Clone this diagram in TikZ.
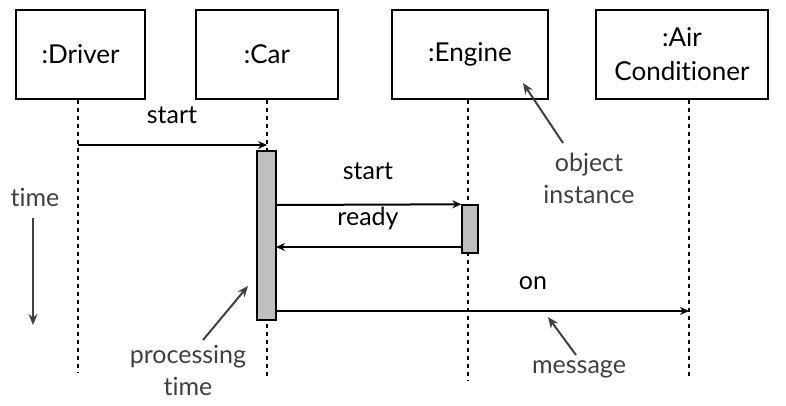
\documentclass[tikz,border=0pt]{standalone}
\usepackage{fontspec}
\setmainfont{Lato}[Ligatures=NoCommon]
\usepackage{tikz}
\usetikzlibrary{arrows.meta}

\tikzset{
  obj/.style={draw, line width=2.6pt, minimum width=#1, minimum height=89pt, inner sep=0pt, align=center, font=\fontsize{26}{34}\selectfont},
  life/.style={line width=2pt, dash pattern=on 4pt off 4pt},
  actbar/.style={draw, line width=1.4pt, fill=gray!50, inner sep=0pt},
  msg/.style={line width=2pt, -{Stealth[length=9pt, width=8pt]}},
  note/.style={line width=2pt, draw=notegray, -{Stealth[length=11pt, width=9pt]}},
  lbl/.style={font=\fontsize{25}{30}\selectfont},
  notelbl/.style={font=\fontsize{25}{32}\selectfont, text=notegray, align=center}
}
\definecolor{notegray}{HTML}{404040}

\begin{document}
\begin{tikzpicture}[x=1pt, y=-1pt]
    \useasboundingbox (0,0) rectangle (786,405);

    % objects
    \node[obj=129pt] (drv) at (80.5,54.5) {:Driver};
    \node[obj=142pt] (car) at (267,54.5) {:Car};
    \node[obj=156pt] (eng) at (470,54.5) {:Engine};
    \node[obj=172pt] (ac) at (682,54.5) {:Air\\Conditioner};

    % lifelines
    \coordinate (drvtop) at (78,100);
    \coordinate (drvbot) at (78,373);
    \coordinate (cartop) at (267,100);
    \coordinate (carbot) at (267,379);
    \coordinate (engtop) at (468,100);
    \coordinate (engbot) at (468,381);
    \coordinate (actop) at (689,100);
    \coordinate (acbot) at (689,379);
    \draw[life] (drvtop) -- (drvbot);
    \draw[life] (cartop) -- (carbot);
    \draw[life] (engtop) -- (engbot);
    \draw[life] (actop) -- (acbot);

    % activations
    \node[actbar, minimum width=19pt, minimum height=169pt] (carbar) at (266.5,235.5) {};
    \node[actbar, minimum width=16pt, minimum height=48pt] (engbar) at (470,229) {};

    % messages
    \coordinate (m1a) at (78,145);
    \coordinate (m1b) at (267,145);
    \draw[msg] (m1a) -- (m1b);
    \node[lbl] (m1lbl) at (172,115) {start};

    \coordinate (m2a) at (276,205);
    \draw[msg] (m2a) -- (engbar.north west);
    \node[lbl] (m2lbl) at (368,171) {start};

    \coordinate (m3a) at (462,247);
    \coordinate (m3b) at (276,247);
    \draw[msg] (m3a) -- (m3b);
    \node[lbl] (m3lbl) at (368,218) {ready};

    \coordinate (m4a) at (276,311);
    \coordinate (m4b) at (689,311);
    \draw[msg] (m4a) -- (m4b);
    \node[lbl] (m4lbl) at (533,283) {on};

    % notes
    \node[notelbl] (timelbl) at (35,197) {time};
    \coordinate (timeend) at (33,325);
    \draw[note] (timelbl.south -| timeend) ++(0,8) coordinate (timestart) -- (timeend);

    \node[notelbl] (objlbl) at (589,178) {object\\instance};
    \coordinate (objtip) at (523,83);
    \draw[note] (563,143) coordinate (objtail) -- (objtip);

    \node[notelbl] (proclbl) at (188,370) {processing\\time};
    \coordinate (proctip) at (248,286);
    \draw[note] (203,340) coordinate (proctail) -- (proctip);

    \node[notelbl] (msglbl) at (579,369) {message};
    \coordinate (msgtip) at (548,317);
    \draw[note] (576,355) coordinate (msgtail) -- (msgtip);
\end{tikzpicture}
\end{document}
